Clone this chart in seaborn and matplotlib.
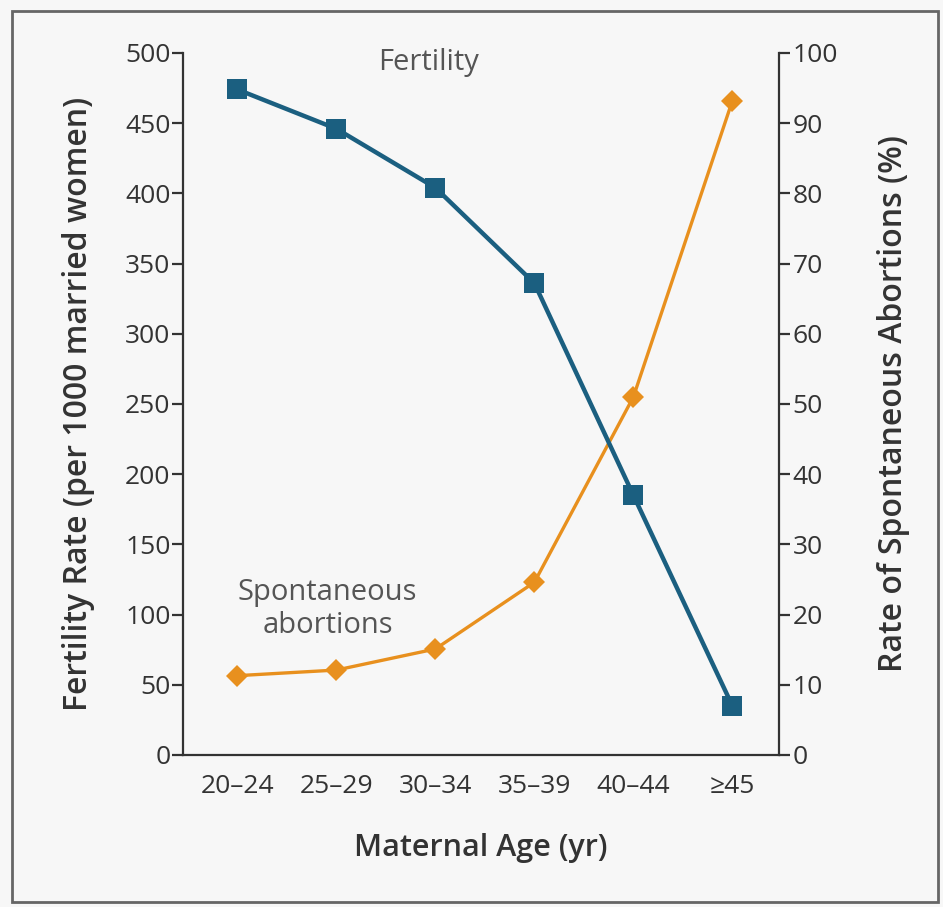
import matplotlib
matplotlib.use("Agg")
import matplotlib.pyplot as plt
import seaborn as sns
import pandas as pd
from matplotlib.patches import Rectangle

age_groups = ["20\u201324", "25\u201329", "30\u201334", "35\u201339", "40\u201344", "\u226545"]
fertility = [474, 446, 404, 336, 185, 35]
spont_abort = [11.3, 12.1, 15.1, 24.6, 51.0, 93.2]
left_ticks = [0, 50, 100, 150, 200, 250, 300, 350, 400, 450, 500]
right_ticks = [0, 10, 20, 30, 40, 50, 60, 70, 80, 90, 100]

sns.set_style("white")
plt.rcParams['font.family'] = ['Open Sans', 'DejaVu Sans']

BLUE = "#1b5f80"
ORANGE = "#e8901e"
TXT = "#333333"
BG = "#f7f7f7"

fig = plt.figure(figsize=(9.43, 9.07), dpi=100, facecolor=BG)
ax = fig.add_axes([0.194, 0.1676, 0.632, 0.774])
ax.set_facecolor(BG)
ax2 = ax.twinx()
ax2.set_facecolor("none")

df = pd.DataFrame({"pos": range(len(age_groups)), "fert": fertility, "sa": spont_abort})

sns.lineplot(data=df, x="pos", y="sa", ax=ax2, color=ORANGE, lw=2.4, marker="D",
             markersize=11, markeredgewidth=0, zorder=2)
sns.lineplot(data=df, x="pos", y="fert", ax=ax, color=BLUE, lw=3.2, marker="s",
             markersize=15, markeredgewidth=0, zorder=3)
ax.set_zorder(ax2.get_zorder() + 1)
ax.patch.set_visible(False)
fig.patch.set_facecolor(BG)

ax.set_xlim(-0.55, 5.47)
ax.set_ylim(0, 500)
ax2.set_ylim(0, 100)
ax.set_xticks(range(len(age_groups)))
ax.set_xticklabels(age_groups)
ax.set_yticks(left_ticks)
ax2.set_yticks(right_ticks)

for a in (ax, ax2):
    a.spines['top'].set_visible(False)
    for s in a.spines.values():
        s.set_color("#333333")
        s.set_linewidth(1.6)
ax.spines['right'].set_visible(False)
ax2.spines['left'].set_visible(False)
ax2.spines['bottom'].set_visible(False)

ax.tick_params(axis='both', direction='out', length=8, width=1.6, color="#333333",
               labelsize=19, labelcolor=TXT, pad=1)
ax.tick_params(axis='x', pad=6)
ax2.tick_params(axis='y', direction='out', length=8, width=1.6, color="#333333",
                labelsize=19, labelcolor=TXT, pad=2)

ax.set_xlabel("Maternal Age (yr)", fontsize=22, fontweight='semibold', color=TXT, labelpad=24)
ax.set_ylabel("Fertility Rate (per 1000 married women)", fontsize=23, fontweight='semibold',
              color=TXT, labelpad=22)
ax2.set_ylabel("Rate of Spontaneous Abortions (%)", fontsize=23, fontweight='semibold',
               color=TXT, labelpad=28)

ax.text(1.93, 493, "Fertility", fontsize=21, color="#555555", ha='center', va='center')
ax.text(0.91, 104, "Spontaneous\nabortions", fontsize=21, color="#555555", ha='center',
        va='center', linespacing=1.2)

fig.patches.append(Rectangle((0.013, 0.006), 0.982, 0.982, transform=fig.transFigure,
                             fill=False, edgecolor="#666666", linewidth=2))

fig.savefig("out.png", dpi=100, facecolor=BG)
